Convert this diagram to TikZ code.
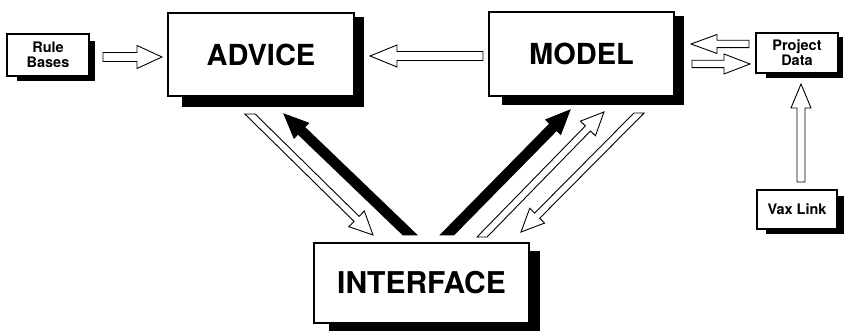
\documentclass[tikz,border=0pt]{standalone}
\usepackage{fontspec}
\setmainfont{TeX Gyre Heros}
\usetikzlibrary{calc}
\pgfdeclarelayer{bg}
\pgfsetlayers{bg,main}

% Block arrow: #1 style, #2 tail, #3 tip, #4 half shaft width,
% #5 half head width, #6 head length, #7 direction of the cut at the tail
\newcommand\fatarrow[7]{%
  \coordinate (fa-b) at ($(#3)!#6!(#2)$);
  \coordinate (fa-sl) at ($(#2)!#4!90:(#3)$);
  \coordinate (fa-sr) at ($(#2)!#4!-90:(#3)$);
  \coordinate (fa-nl) at ($(fa-b)!#4!90:(#3)$);
  \coordinate (fa-nr) at ($(fa-b)!#4!-90:(#3)$);
  \coordinate (fa-hl) at ($(fa-b)!#5!90:(#3)$);
  \coordinate (fa-hr) at ($(fa-b)!#5!-90:(#3)$);
  \coordinate (fa-c) at ($(#2)+(#7)$);
  \path[#1] (intersection of fa-sl--fa-nl and #2--fa-c) -- (fa-nl) -- (fa-hl)
    -- (#3) -- (fa-hr) -- (fa-nr) -- (intersection of fa-sr--fa-nr and #2--fa-c) -- cycle;
}
% Offset black shadow behind a box: corners shifted from north west and south east
\newcommand\boxshadow[5]{%
  \begin{pgfonlayer}{bg}
    \fill[black] ($(#1.north west)+(#2,#3)$) rectangle ($(#1.south east)+(#4,#5)$);
  \end{pgfonlayer}}

\tikzset{
  panel/.style={draw=black, fill=white, line width=1.1pt, inner sep=0pt,
    align=center, font=\bfseries},
  bigpanel/.style={panel, font=\fontsize{29}{32}\selectfont\bfseries},
  smallpanel/.style={panel, font=\fontsize{14.5}{15}\selectfont\bfseries},
  hollow/.style={draw=black, fill=white, line width=0.9pt, line join=miter},
  solid/.style={draw=black, fill=black, line width=0.9pt, line join=miter},
}

\begin{document}
\begin{tikzpicture}[x=1pt,y=1pt]
  \useasboundingbox (0,0) rectangle (844,334);
  \begin{pgfonlayer}{bg}
    \fill[white] (0,0) rectangle (844,334);
  \end{pgfonlayer}

  % boxes
  \node[smallpanel, minimum width=82pt, minimum height=42pt] (rules) at (48,279) {Rule\\Bases};
  \node[bigpanel, minimum width=186pt, minimum height=83pt] (advice) at (261,279.5) {ADVICE};
  \node[bigpanel, minimum width=185pt, minimum height=84pt] (model) at (581.5,280) {MODEL};
  \node[smallpanel, minimum width=82pt, minimum height=40pt] (project) at (797,281) {Project\\Data};
  \node[smallpanel, minimum width=80pt, minimum height=39pt] (vax) at (797,124.5) {Vax Link};
  \node[bigpanel, minimum width=215pt, minimum height=80pt, font=\fontsize{30}{32}\selectfont\bfseries] (iface) at (421.5,51) {INTERFACE};

  % shadows
  \boxshadow{rules}{11}{-8}{5}{-4}
  \boxshadow{advice}{15}{-5}{9}{-10}
  \boxshadow{model}{14}{-5}{9}{-8}
  \boxshadow{project}{11}{-5}{4}{-4}
  \boxshadow{vax}{10}{-7}{6}{-4}
  \boxshadow{iface}{16}{-9}{10}{-7}

  % arrow ends
  \coordinate (rb-t) at (103,277);  \coordinate (rb-h) at (162,277);
  \coordinate (ma-t) at (483,278);  \coordinate (ma-h) at (370,278);
  \coordinate (pm-t) at (749,290);  \coordinate (pm-h) at (691,290);
  \coordinate (mp-t) at (692,270);  \coordinate (mp-h) at (750,270);
  \coordinate (vp-t) at (801,152);  \coordinate (vp-h) at (801,250);
  \coordinate (ai-t) at (250,220);  \coordinate (ai-h) at (373,99);
  \coordinate (ia-t) at (410,99);   \coordinate (ia-h) at (284,220);
  \coordinate (im-t) at (447,99);   \coordinate (im-h) at (570,224);
  \coordinate (iq-t) at (482,97);   \coordinate (iq-h) at (604,222);
  \coordinate (mi-t) at (639,221);  \coordinate (mi-h) at (521,102);

  % horizontal and vertical arrows
  \fatarrow{hollow}{rb-t}{rb-h}{4.5pt}{11.5pt}{25pt}{0,1}
  \fatarrow{hollow}{ma-t}{ma-h}{4.5pt}{11pt}{27pt}{0,1}
  \fatarrow{hollow}{pm-t}{pm-h}{3.7pt}{9.5pt}{26pt}{0,1}
  \fatarrow{hollow}{mp-t}{mp-h}{3.7pt}{10pt}{26pt}{0,1}
  \fatarrow{hollow}{vp-t}{vp-h}{4pt}{10pt}{24pt}{1,0}

  % diagonal arrows to and from the interface
  \fatarrow{hollow}{ai-t}{ai-h}{3.6pt}{11pt}{23pt}{1,0}
  \fatarrow{solid}{ia-t}{ia-h}{4.8pt}{10.5pt}{24pt}{1,0}
  \fatarrow{solid}{im-t}{im-h}{4.8pt}{10.5pt}{24pt}{1,0}
  \fatarrow{hollow}{iq-t}{iq-h}{3.6pt}{10.5pt}{23pt}{1,0}
  \fatarrow{hollow}{mi-t}{mi-h}{3.6pt}{10.5pt}{23pt}{1,0}
\end{tikzpicture}
\end{document}
